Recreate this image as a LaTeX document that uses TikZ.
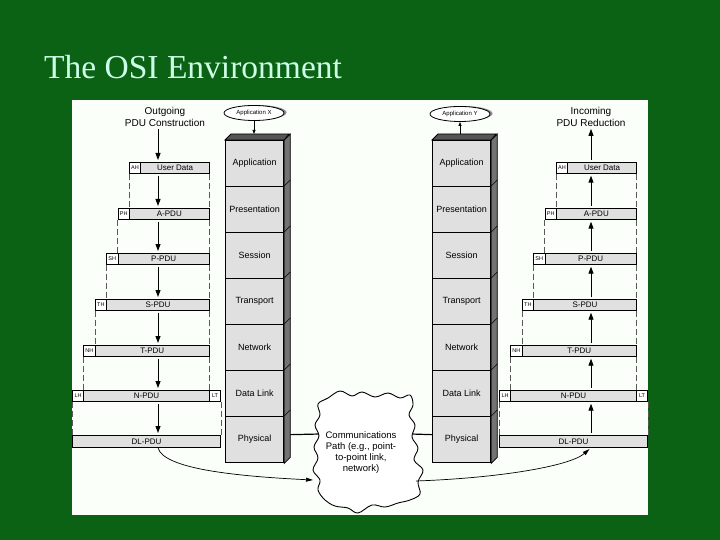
\documentclass[tikz,border=0pt]{standalone}
\usepackage{fontspec}
\setmainfont{Liberation Serif}
\setsansfont{Liberation Sans}
\usetikzlibrary{arrows.meta,calc,shapes.geometric,shadows}
\definecolor{bggreen}{RGB}{12,98,20}
\definecolor{titlecol}{RGB}{205,255,232}
\definecolor{panelcol}{RGB}{250,255,250}
\definecolor{boxgray}{RGB}{224,224,224}
\definecolor{topgray}{RGB}{85,85,85}
\definecolor{sidegray}{RGB}{115,115,115}
\newcommand\pducolumn[1]{%
  \node[hdr] (#1h1) at (129,162) {AH};
  \node[pdu, minimum width=68.6pt] (#1d1) at (140.4,162) {User Data};
  \node[hdr] (#1h2) at (117.6,208) {PH};
  \node[pdu, minimum width=80pt] (#1d2) at (129,208) {A-PDU};
  \node[hdr] (#1h3) at (106.2,253) {SH};
  \node[pdu, minimum width=91.4pt] (#1d3) at (117.6,253) {P-PDU};
  \node[hdr] (#1h4) at (94.8,299) {TH};
  \node[pdu, minimum width=102.8pt] (#1d4) at (106.2,299) {S-PDU};
  \node[hdr] (#1h5) at (83.4,345) {NH};
  \node[pdu, minimum width=114.2pt] (#1d5) at (94.8,345) {T-PDU};
  \node[hdr] (#1h6) at (72,390) {LH};
  \node[pdu, minimum width=125.6pt] (#1d6) at (83.4,390) {N-PDU};
  \node[hdr] (#1t) at (209,390) {LT};
  \node[pdu, minimum width=148.4pt, minimum height=12pt] (#1d7) at (72,435) {DL-PDU};
  \foreach \k [evaluate=\k as \j using int(\k+1)] in {1,...,5} {
    \draw[dline] (#1h\k.south west) -- (#1h\k.south west |- #1d\j.north);
    \draw[dline] (#1d\k.south east) -- (#1d\k.south east |- #1d\j.north);
  }
  \draw[dline] (#1h6.south west) -- (#1h6.south west |- #1d7.north);
  \draw[dline] (#1t.south east) -- (#1t.south east |- #1d7.north);
}
\begin{document}
\begin{tikzpicture}[x=1pt,y=-1pt,
  pdu/.style={draw=black, line width=0.7pt, fill=boxgray, inner sep=0pt, minimum height=11pt, anchor=north west, font=\sffamily\fontsize{8}{9}\selectfont},
  hdr/.style={pdu, fill=white, minimum width=11.4pt, font=\sffamily\fontsize{5.5}{6}\selectfont},
  layer/.style={draw=black, line width=1.3pt, fill=boxgray, inner sep=0pt, minimum width=58pt, minimum height=46pt, anchor=north west, font=\sffamily\fontsize{9}{10}\selectfont},
  dline/.style={dash pattern=on 6pt off 3pt, line width=0.6pt, black!65},
  parr/.style={line width=0.9pt, shorten <=2pt, shorten >=2pt, -{Triangle[width=5pt,length=7pt]}},
  sarr/.style={line width=0.7pt, -{Triangle[width=3pt,length=4pt]}},
  carr/.style={line width=0.7pt, -{Triangle[width=4pt,length=7pt]}},
  appl/.style={ellipse, draw=black, line width=0.8pt, fill=white, minimum width=60pt, minimum height=15pt, inner sep=0pt, font=\sffamily\fontsize{6}{7}\selectfont, drop shadow={shadow xshift=2.5pt, shadow yshift=0.5pt, fill=black!45, opacity=1}},
  lbl/.style={font=\sffamily\fontsize{10}{12}\selectfont, align=center, inner sep=0pt},
]
\useasboundingbox (0,0) rectangle (720,540);
\fill[bggreen] (0,0) rectangle (720,540);
\fill[panelcol] (72,100) rectangle (648,515);
\node[anchor=base west, inner sep=0pt, text=titlecol, font=\fontsize{33.5}{38}\selectfont] (title) at (44,79) {The OSI Environment};

% PDU columns
\pducolumn{l}
\begin{scope}[xshift=427pt]
\pducolumn{r}
\end{scope}

% column labels and arrows
\node[lbl] (outg) at (165,117) {Outgoing\\PDU Construction};
\node[lbl] (inc) at (591,117) {Incoming\\PDU Reduction};
\coordinate (lax) at (158,0);
\coordinate (rax) at (591,0);
\draw[parr] (lax |- outg.south) -- (lax |- ld1.north);
\foreach \k [evaluate=\k as \j using int(\k+1)] in {1,...,6} {
  \draw[parr] (lax |- ld\k.south) -- (lax |- ld\j.north);
  \draw[parr] (rax |- rd\j.north) -- (rax |- rd\k.south);
}
\draw[parr] (rax |- rd1.north) -- (rax |- inc.south);

% protocol stacks
\foreach \n/\t [count=\i from 0] in {app/Application, pres/Presentation, ses/Session, tra/Transport, net/Network, dl/Data Link, phy/Physical} {
  \node[layer] (l\n) at (225,140+46*\i) {\t};
  \node[layer] (r\n) at (432,140+46*\i) {\t};
}
\foreach \s in {l,r} {
  \filldraw[fill=topgray, draw=black, line width=0.8pt] (\s app.north west) -- ++(6,-6) -- ++(58,0) -- (\s app.north east) -- cycle;
  \filldraw[fill=sidegray, draw=black, line width=0.8pt] (\s app.north east) -- ++(6,-6) -- ($(\s phy.south east)+(6,-6)$) -- (\s phy.south east) -- cycle;
  \foreach \n in {pres,ses,tra,net,dl,phy} {
    \draw[line width=0.6pt] (\s\n.north east) -- ++(6,-6);
  }
}

% applications
\node[appl] (appx) at (254,113) {Application X};
\node[appl] (appy) at (460,114) {Application Y};
\coordinate (ltopc) at (254,134);
\coordinate (rtopc) at (460,134);
\draw[sarr] (appx.south) -- (ltopc);
\draw[sarr] (rtopc) -- (appy.south);

% physical link and cloud
\coordinate (cl) at (320,434);
\coordinate (cr) at (411,434);
\draw[line width=1.2pt] ($(lphy.east)+(6,-5)$) -- (cl);
\draw[line width=1.2pt] (cr) -- ($(rphy.west)+(0,-5)$);
\draw[line width=0.9pt, fill=white] plot[smooth cycle, tension=0.6] coordinates {
 (340,391) (352,396) (362,392) (375,397) (388,393) (400,398) (410,395) (413,405)
 (409,415) (415,425) (412,437) (418,448) (414,460) (423,470) (418,482) (420,494)
 (410,500) (398,503) (385,507) (372,505) (358,513) (348,508) (335,506) (325,500)
 (318,490) (320,480) (313,470) (318,458) (314,447) (319,436) (315,425) (320,415)
 (318,404) (328,398)};
\node[font=\sffamily\fontsize{9.5}{11}\selectfont, align=center, inner sep=0pt] (cloudtxt) at (361,453) {Communications\\Path (e.g., point-\\to-point link,\\network)};
\coordinate (ccl) at (313,480);
\coordinate (ccr) at (416,481);
\draw[carr] (lax |- ld7.south) .. controls (163,468) and (230,476) .. (ccl);
\draw[carr, shorten >=2pt] (ccr) .. controls (500,478) and (570,466) .. (rax |- rd7.south);
\end{tikzpicture}
\end{document}
